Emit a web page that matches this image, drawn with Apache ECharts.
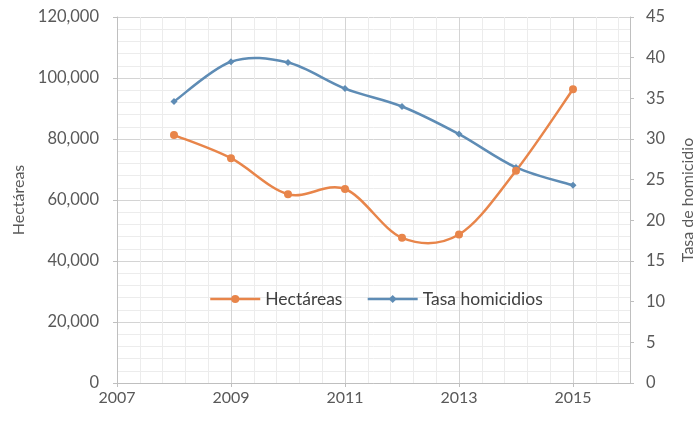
<!DOCTYPE html>
<html>
<head>
<meta charset="utf-8">
<script src="https://cdn.jsdelivr.net/npm/echarts@6/dist/echarts.min.js"></script>
<style>
  html, body { margin: 0; padding: 0; background: #ffffff; }
  #chart { width: 700px; height: 425px; }
</style>
</head>
<body>
<div id="chart"></div>
<script>
// Years on the horizontal value axis
const years = [2008, 2009, 2010, 2011, 2012, 2013, 2014, 2015];
// Coca cultivation area (hectares), left axis
const hectareas = [81300, 73700, 61900, 63600, 47600, 48700, 69600, 96300];
// Homicide rate, right axis
const tasaHomicidios = [34.6, 39.5, 39.4, 36.2, 34.0, 30.6, 26.5, 24.3];

const seriesNames = ['Hectáreas', 'Tasa homicidios'];
const leftAxisName = 'Hectáreas';
const rightAxisName = 'Tasa de homicidio';

const textColor = '#595959';
const fontFamily = 'Lato, "Open Sans", sans-serif';
const majorGrid = '#d4d4d4';
const minorGrid = '#ececec';
const orange = '#E8854A';
const blue = '#5E8CB5';

const pair = (xs, ys) => xs.map((x, i) => [x, ys[i]]);
const fmtThousands = v => String(v).replace(/\B(?=(\d{3})+(?!\d))/g, ',');

// Catmull-Rom style smoothing: each data item draws the curve segment to the next point
function smoothSegment(values, color) {
  return function (params, api) {
    const i = params.dataIndex;
    if (i >= years.length - 1) return null;
    const clamp = k => Math.max(0, Math.min(years.length - 1, k));
    const p = k => api.coord([years[clamp(k)], values[clamp(k)]]);
    const p0 = p(i - 1), p1 = p(i), p2 = p(i + 1), p3 = p(i + 2);
    const t = 1 / 6;
    return {
      type: 'bezierCurve',
      shape: {
        x1: p1[0], y1: p1[1],
        cpx1: p1[0] + (p2[0] - p0[0]) * t, cpy1: p1[1] + (p2[1] - p0[1]) * t,
        cpx2: p2[0] - (p3[0] - p1[0]) * t, cpy2: p2[1] - (p3[1] - p1[1]) * t,
        x2: p2[0], y2: p2[1]
      },
      style: { stroke: color, lineWidth: 2.5, fill: null, lineCap: 'round' }
    };
  };
}

const chart = echarts.init(document.getElementById('chart'), null, { renderer: 'canvas' });

chart.setOption({
  animation: false,
  backgroundColor: '#ffffff',
  textStyle: { fontFamily: fontFamily },
  grid: { left: 117, right: 70, top: 17, bottom: 42, containLabel: false, outerBoundsMode: 'none' },
  legend: {
    data: [
      { name: seriesNames[0], lineStyle: { color: orange, width: 2.5, opacity: 1 } },
      { name: seriesNames[1], lineStyle: { color: blue, width: 2.5, opacity: 1 } }
    ],
    left: 204,
    top: 285,
    itemWidth: 50,
    itemHeight: 10,
    itemGap: 24,
    textStyle: { color: '#404040', fontSize: 17.5, fontFamily: fontFamily }
  },
  xAxis: [
    {
      // fine grid every 0.4 year (offset from 2007)
      type: 'value', min: 0, max: 9, interval: 0.4, position: 'bottom',
      axisLine: { show: false }, axisTick: { show: false }, axisLabel: { show: false },
      splitLine: { show: true, lineStyle: { color: minorGrid, width: 1 } }
    },
    {
      type: 'value', min: 2007, max: 2016, interval: 2, position: 'bottom',
      axisLine: { show: true, onZero: false, lineStyle: { color: '#bfbfbf', width: 1 } },
      axisTick: { show: true, length: 4, lineStyle: { color: '#bfbfbf' } },
      axisLabel: {
        color: textColor, fontSize: 16, margin: 7, showMaxLabel: false,
        formatter: v => (v === 2016 ? '' : String(v))
      },
      splitLine: { show: true, lineStyle: { color: majorGrid, width: 1 } }
    }
  ],
  yAxis: [
    {
      type: 'value', min: 0, max: 120000, interval: 20000,
      name: leftAxisName, nameLocation: 'middle', nameGap: 90, nameRotate: 90,
      nameTextStyle: { color: textColor, fontSize: 16 },
      axisLine: { show: true, lineStyle: { color: '#bfbfbf' } },
      axisTick: { show: true, length: 4, lineStyle: { color: '#bfbfbf' } },
      axisLabel: { color: textColor, fontSize: 16.5, margin: 18, formatter: fmtThousands },
      splitLine: { show: true, lineStyle: { color: majorGrid, width: 1 } },
      minorTick: { show: false, splitNumber: 5 },
      minorSplitLine: { show: true, lineStyle: { color: minorGrid, width: 1 } }
    },
    {
      type: 'value', min: 0, max: 45, interval: 5, position: 'right',
      name: rightAxisName, nameLocation: 'middle', nameGap: 50, nameRotate: 90,
      nameTextStyle: { color: textColor, fontSize: 16 },
      axisLine: { show: true, lineStyle: { color: '#bfbfbf' } },
      axisTick: { show: true, length: 4, lineStyle: { color: '#bfbfbf' } },
      axisLabel: { color: textColor, fontSize: 16.5, margin: 16 },
      splitLine: { show: false }
    }
  ],
  series: [
    {
      name: seriesNames[0] + ' curve',
      type: 'custom',
      xAxisIndex: 1, yAxisIndex: 0,
      data: pair(years, hectareas),
      renderItem: smoothSegment(hectareas, orange),
      silent: true,
      z: 3
    },
    {
      name: seriesNames[1] + ' curve',
      type: 'custom',
      xAxisIndex: 1, yAxisIndex: 1,
      data: pair(years, tasaHomicidios),
      renderItem: smoothSegment(tasaHomicidios, blue),
      silent: true,
      z: 2
    },
    {
      name: seriesNames[0],
      type: 'line',
      xAxisIndex: 1, yAxisIndex: 0,
      data: pair(years, hectareas),
      symbol: 'circle', symbolSize: 8,
      lineStyle: { color: orange, width: 2.5, opacity: 0 },
      itemStyle: { color: orange },
      z: 4
    },
    {
      name: seriesNames[1],
      type: 'line',
      xAxisIndex: 1, yAxisIndex: 1,
      data: pair(years, tasaHomicidios),
      symbol: 'diamond', symbolSize: 7,
      lineStyle: { color: blue, width: 2.5, opacity: 0 },
      itemStyle: { color: blue },
      z: 3
    }
  ]
});
</script>
</body>
</html>
